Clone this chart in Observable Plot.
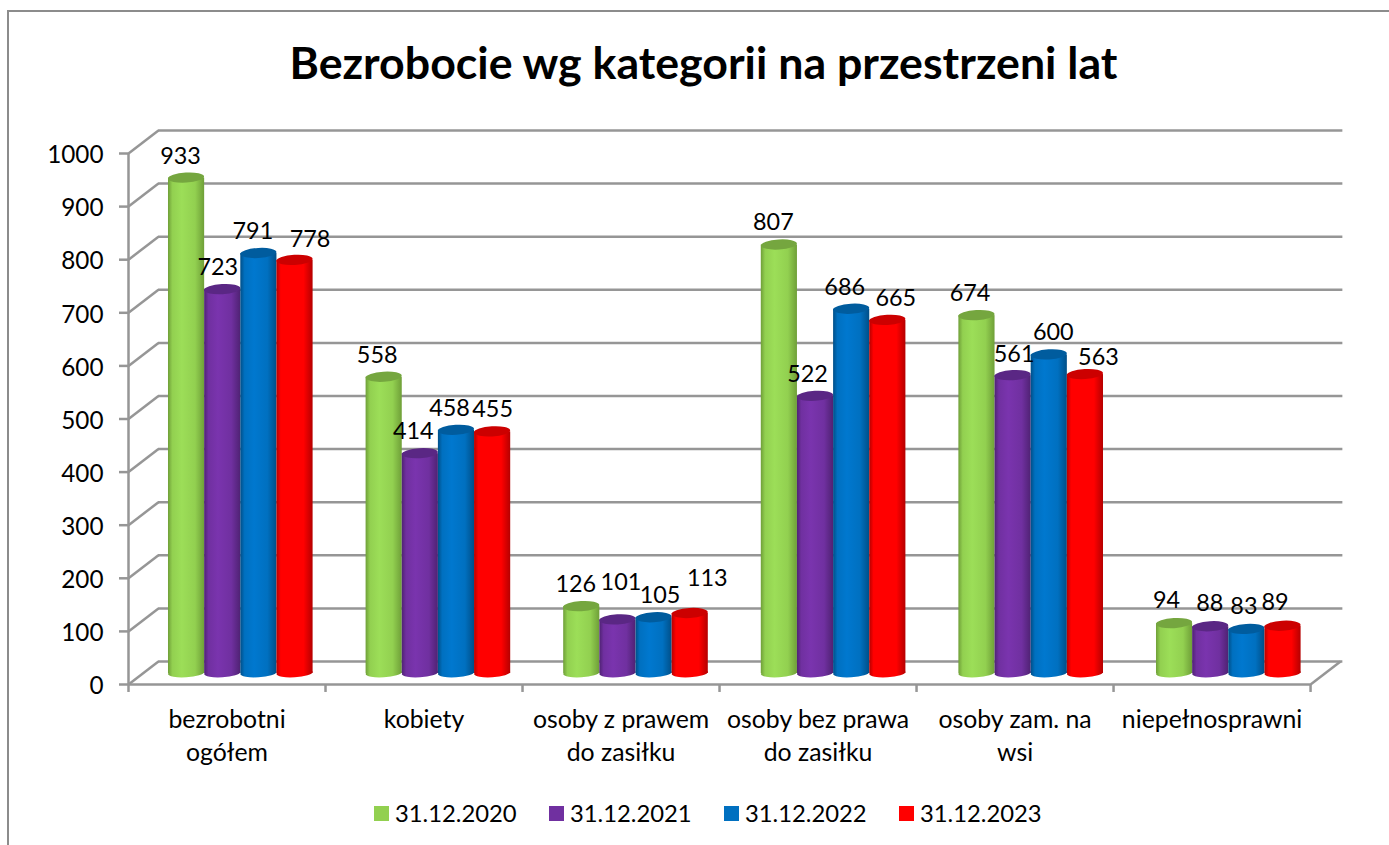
<!DOCTYPE html>
<html lang="pl">
<head>
<meta charset="utf-8">
<script src="https://cdn.jsdelivr.net/npm/d3@7"></script>
<script src="https://cdn.jsdelivr.net/npm/@observablehq/plot@0.6"></script>
<style>
  html, body { margin: 0; padding: 0; background: #fff; overflow: hidden; }
  #frame { position: absolute; left: 7px; top: 10px; right: -5px; bottom: -5px; border: 2px solid #8c8c8c; box-sizing: border-box; }
  #page { position: relative; width: 1389px; height: 845px; font-family: Lato, sans-serif; color: #000; }
  #title { position: absolute; left: 0; width: 1407px; top: 36px; text-align: center; font-size: 44.7px; font-weight: 700; line-height: 52px; }
  #chart { position: absolute; left: 0; top: 110px; }
  #chart svg { overflow: visible; }
  #legend { position: absolute; left: 374px; top: 798px; display: flex; font-size: 23.8px; line-height: 30px; }
  #legend .item { display: flex; align-items: center; white-space: nowrap; width: 175px; }
  #legend .sw { width: 15px; height: 15px; margin-right: 6px; display: inline-block; }
  .cap rect { transform-box: fill-box; transform-origin: center; transform: rotate(-3.5deg); }
</style>
</head>
<body>
<div id="page">
  <div id="frame"></div>
  <div id="title">Bezrobocie wg kategorii na przestrzeni lat</div>
  <div id="chart"></div>
  <div id="legend"></div>
</div>
<script>
const categories = ["bezrobotni\nogółem", "kobiety", "osoby z prawem\ndo zasiłku", "osoby bez prawa\ndo zasiłku", "osoby zam. na\nwsi", "niepełnosprawni"];
const seriesNames = ["31.12.2020", "31.12.2021", "31.12.2022", "31.12.2023"];
const values2020 = [933, 558, 126, 807, 674, 94];
const values2021 = [723, 414, 101, 522, 561, 88];
const values2022 = [791, 458, 105, 686, 600, 83];
const values2023 = [778, 455, 113, 665, 563, 89];
const seriesValues = [values2020, values2021, values2022, values2023];
const yTicks = d3.range(0, 1001, 100);

const swatch = ["#92d050", "#7030a0", "#0070c0", "#ff0000"];
const edge = ["#6f9f38", "#4f2273", "#004f88", "#b50000"];
const light = ["#9cde58", "#7a34ae", "#0078cf", "#ff0000"];
const capFill = ["#75a63f", "#5a2784", "#005c9e", "#cc0000"];

// label nudges (px): [dx, dy] from the top of each bar
const nudgeX = [[-6,-7,-6,-6,-7,-8],[-5,-7,3,-8,1,-1],[-6,-7,6,-7,4,-3],[15,0,17,8,13,-8]];
const nudgeY = [[-22,-22,-22,-22,-22,-23],[-22,-22,-37,-22,-21,-23],[-22,-22,-22,-22,-22,-23],[-21,-22,-35,-22,-17,-24]];

const depthX = 0.152, depthY = 43.3;     // back wall offset in data units
const floorX = 0.203, barW = 0.1835, floorY = 20.7, pitch = 1.003;   // bars stand mid-depth
const capH = 9.5, baseH = 8;  // half-heights of the ellipses in y units

const defs = () => {
  const ns = "http://www.w3.org/2000/svg";
  const d = document.createElementNS(ns, "defs");
  swatch.forEach((_, i) => {
    const g = document.createElementNS(ns, "linearGradient");
    g.setAttribute("id", "g" + i);
    [[0, edge[i]], [0.12, swatch[i]], [0.38, light[i]], [0.75, swatch[i]], [1, edge[i]]].forEach(([o, c]) => {
      const s = document.createElementNS(ns, "stop");
      s.setAttribute("offset", o);
      s.setAttribute("stop-color", c);
      g.appendChild(s);
    });
    d.appendChild(g);
  });
  return d;
};

const gridColor = "#969696", gridW = 2.5;
const marks = [
  defs,
  // back wall grid
  Plot.ruleY(yTicks, {y: d => d + depthY, x1: depthX, x2: 6 + depthX + 0.012, stroke: gridColor, strokeWidth: gridW}),
  // side wall diagonals
  Plot.link(yTicks, {x1: 0, x2: depthX, y1: d => d, y2: d => d + depthY, stroke: gridColor, strokeWidth: gridW}),
  // right floor edge
  Plot.link([0], {x1: 6, x2: 6 + depthX, y1: 0, y2: depthY, stroke: gridColor, strokeWidth: gridW}),
  // front axes
  Plot.ruleY([0], {x1: 0, x2: 6, stroke: gridColor, strokeWidth: gridW}),
  Plot.ruleX([0], {y1: 0, y2: 1000, stroke: gridColor, strokeWidth: gridW}),
  Plot.ruleX(d3.range(7), {y1: 0, y2: -15, stroke: gridColor, strokeWidth: gridW}),
  Plot.axisY({ticks: yTicks, tickSize: 9, tickPadding: 16, stroke: gridColor, strokeWidth: gridW, fill: "#000", fontSize: 24.3, label: null, tickFormat: d => String(d), textStroke: "none"}),
  Plot.text(categories, {x: (d, i) => i + 0.5, y: 0, text: d => d, dy: 20, lineAnchor: "top", lineHeight: 1.33, fontSize: 24.8, fill: "#000"})
];

seriesValues.forEach((vals, s) => {
  const rows = vals.map((v, c) => ({v, x1: c * pitch + floorX + s * barW, x2: c * pitch + floorX + (s + 1) * barW}));
  marks.push(
    Plot.rect(rows, {x1: "x1", x2: "x2", y1: floorY - baseH, y2: floorY + baseH, fill: `url(#g${s})`, rx: 18.5, ry: 4.3, className: "cap"}),
    Plot.rect(rows, {x1: "x1", x2: "x2", y1: floorY, y2: d => d.v + floorY, fill: `url(#g${s})`}),
    Plot.rect(rows, {x1: "x1", x2: "x2", y1: d => d.v + floorY - capH, y2: d => d.v + floorY + capH, fill: capFill[s], rx: 18.5, ry: 5.1, className: "cap"})
  );
});

seriesValues.forEach((vals, s) => {
  vals.forEach((v, c) => {
    marks.push(Plot.text([v], {
      x: c * pitch + floorX + (s + 0.5) * barW,
      y: v + floorY,
      text: d => String(d),
      dx: nudgeX[s][c],
      dy: nudgeY[s][c],
      fontSize: 23.4,
      fill: "#000"
    }));
  });
});

const chart = Plot.plot({
  width: 1389,
  height: 680,
  marginLeft: 128,
  marginRight: 49,
  marginTop: 20,
  marginBottom: 100,
  x: {type: "linear", domain: [0, 6 + depthX], range: [128, 1340], axis: null},
  y: {domain: [0, 1000], range: [574, 43], axis: null},
  style: {fontFamily: "Lato, sans-serif", background: "transparent", overflow: "visible"},
  marks
});
document.getElementById("chart").appendChild(chart);

const legend = document.getElementById("legend");
seriesNames.forEach((n, i) => {
  const it = document.createElement("div");
  it.className = "item";
  const sw = document.createElement("span");
  sw.className = "sw";
  sw.style.background = swatch[i];
  it.appendChild(sw);
  it.appendChild(document.createTextNode(n));
  legend.appendChild(it);
});

// nudge the y-axis labels onto the reference baselines
chart.querySelectorAll('[aria-label="y-axis tick label"] text').forEach(t => t.setAttribute("dy", "2"));
</script>
</body>
</html>
